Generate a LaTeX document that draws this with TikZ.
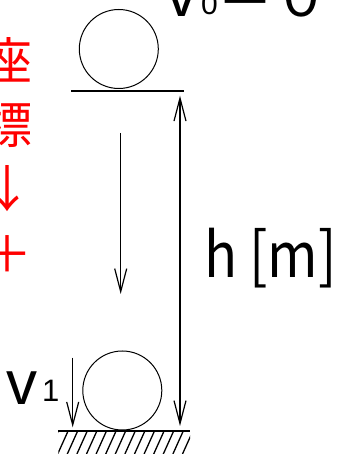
\documentclass[tikz,border=0pt]{standalone}
\usepackage{fontspec}
\usepackage{graphicx}
\setmainfont{Liberation Sans}
\newfontfamily\jp{Noto Sans CJK JP}
\usetikzlibrary{arrows.meta}
\begin{document}
\begin{tikzpicture}[x=1pt,y=1pt,
  barb/.style={-{Straight Barb[length=23pt,width=12pt,line width=1.2pt]}, line width=1.5pt},
  hdim/.style={{Straight Barb[length=23pt,width=12pt,line width=1.2pt]}-{Straight Barb[length=23pt,width=12pt,line width=1.2pt]}, line width=1.5pt},
  ball/.style={circle, draw, line width=1pt, minimum size=79pt, inner sep=0},
  floor/.style={line width=1.7pt},
  hatch/.style={line width=1.3pt},
  lbl/.style={inner sep=0, outer sep=0},
  redtxt/.style={text=red, font=\jp\fontsize{50}{50}\selectfont, inner sep=0}
]
\useasboundingbox (0,0) rectangle (339,454);
% balls and floors
\node[ball] (top) at (118.8,405) {};
\coordinate (tl) at (71,363.3);
\coordinate (tr) at (184.3,363.3);
\draw[floor] (tl) -- (tr);
\node[ball] (bot) at (122.3,63.5) {};
\coordinate (gl) at (58.3,23.3);
\coordinate (gr) at (190,23.3);
\draw[floor] (gl) -- (gr);
\begin{scope}
  \clip (58.3,0) rectangle (190,23.3);
  \foreach \i in {-2,...,14} \draw[hatch] (57.7+9.6*\i,0) -- ++(10.5,23.3);
\end{scope}
% arrows
\coordinate (ht) at (180,358.3);
\coordinate (hb) at (180,28);
\draw[hdim] (ht) -- (hb);
\coordinate (ms) at (120.7,321);
\coordinate (me) at (120.7,160);
\draw[barb] (ms) -- (me);
\coordinate (vs) at (72.7,96.3);
\coordinate (ve) at (72.7,26.7);
\draw[barb] (vs) -- (ve);
% labels
\node[lbl, anchor=base west, font=\jp\fontsize{62}{62}\selectfont] (h) at (204,176) {\scalebox{0.88}[1]{h [m]}};
\node[lbl, anchor=base west] (v1) at (6,49) {{\fontsize{62}{62}\selectfont v}\hspace{5pt}{\fontsize{31}{31}\selectfont\raisebox{3pt}{1}}};
\node[lbl, anchor=base west] (v0) at (166,437) {{\fontsize{62}{62}\selectfont v}\hspace{4pt}{\fontsize{30}{30}\selectfont\raisebox{2pt}{0}}{\jp\fontsize{56}{56}\selectfont ＝０}};
% red axis label
\node[redtxt] (za) at (8,394) {座};
\node[redtxt] (hyo) at (8,329) {標};
\node[redtxt] (dn) at (8,265) {↓};
\node[redtxt] (plus) at (8,199.5) {＋};
\end{tikzpicture}
\end{document}
